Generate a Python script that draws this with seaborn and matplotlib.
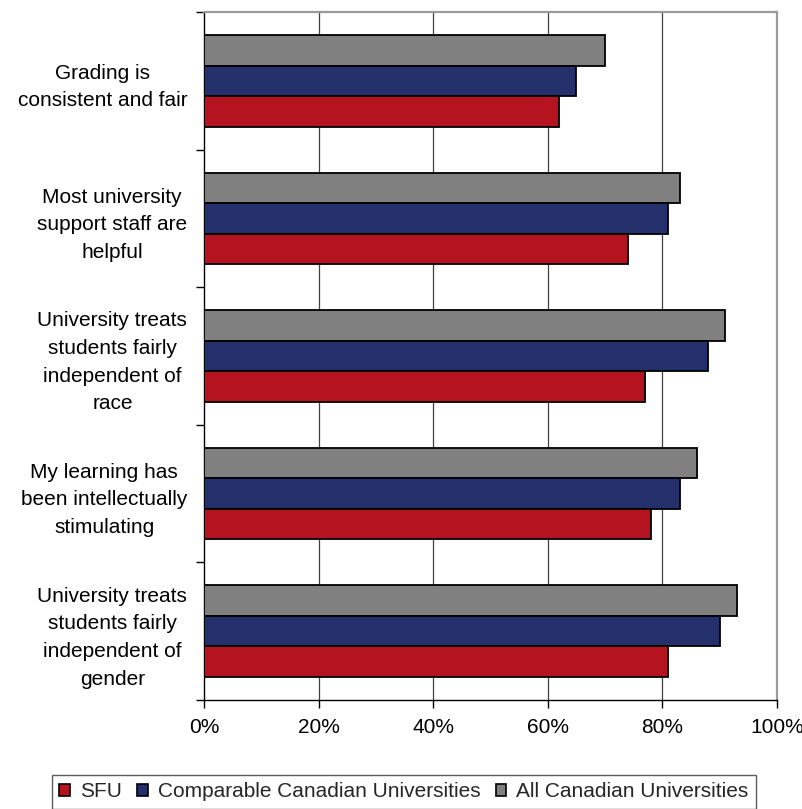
import matplotlib
matplotlib.use("Agg")
import matplotlib.pyplot as plt
from matplotlib.patches import Patch
from matplotlib.ticker import FixedLocator, FuncFormatter
import seaborn as sns
import pandas as pd
import numpy as np

# Survey statements (top to bottom) and share of students agreeing, in percent
categories = [
    "Grading is\nconsistent and fair",
    "Most university\nsupport staff are\nhelpful",
    "University treats\nstudents fairly\nindependent of\nrace",
    "My learning has\nbeen intellectually\nstimulating",
    "University treats\nstudents fairly\nindependent of\ngender",
]
series = ["SFU", "Comparable Canadian Universities", "All Canadian Universities"]
sfu = [62, 74, 77, 78, 81]
comparable = [65, 81, 88, 83, 90]
all_canadian = [70, 83, 91, 86, 93]
x_ticks = [0, 20, 40, 60, 80, 100]

palette = {
    "SFU": "#B5131F",
    "Comparable Canadian Universities": "#24306C",
    "All Canadian Universities": "#808080",
}

df = pd.DataFrame({
    "category": categories * 3,
    "series": [series[0]] * 5 + [series[1]] * 5 + [series[2]] * 5,
    "value": sfu + comparable + all_canadian,
})

sns.set_theme(style="white")
plt.rcParams["font.family"] = ["Liberation Sans", "DejaVu Sans"]
FS = 15

fig = plt.figure(figsize=(8.02, 8.09), dpi=100)
ax = fig.add_axes([204 / 802, 109 / 809, 573 / 802, 688 / 809])

sns.barplot(
    data=df, x="value", y="category", hue="series",
    order=categories, hue_order=series[::-1], palette=palette,
    orient="h", width=2 / 3, edgecolor="black", linewidth=1.3,
    saturation=1, legend=False, ax=ax, zorder=3,
)

ax.set_xlim(0, 100)
ax.set_ylim(4.5, -0.5)
ax.set_xlabel("")
ax.set_ylabel("")

# Vertical gridlines
for v in x_ticks[1:-1]:
    ax.axvline(v, color="#404040", lw=0.9, zorder=1)

# Axis frame: black left/bottom, grey top/right
for side in ("left", "bottom"):
    ax.spines[side].set_color("black")
    ax.spines[side].set_linewidth(1.0)
for side in ("top", "right"):
    ax.spines[side].set_color("#9a9a9a")
    ax.spines[side].set_linewidth(1.6)

ax.xaxis.set_major_locator(FixedLocator(x_ticks))
ax.xaxis.set_major_formatter(FuncFormatter(lambda v, p: f"{v:.0f}%"))
ax.tick_params(axis="x", which="major", bottom=True, length=6, width=1,
               color="black", direction="out", pad=7, labelsize=FS,
               labelcolor="black")

ax.yaxis.set_major_locator(FixedLocator(range(len(categories))))
ax.set_yticklabels(categories)
ax.yaxis.set_minor_locator(FixedLocator(np.arange(-0.5, len(categories), 1.0)))
ax.tick_params(axis="y", which="major", left=True, length=0, pad=12,
               labelsize=FS, labelcolor="black")
ax.tick_params(axis="y", which="minor", left=True, length=6, width=1,
               color="black", direction="out")
for lbl in ax.get_yticklabels():
    lbl.set_multialignment("center")
    lbl.set_linespacing(1.58)

handles = [Patch(facecolor=palette[s], edgecolor="black", linewidth=1.2) for s in series]
leg = fig.legend(
    handles, series, loc="upper left", bbox_to_anchor=(52 / 802, 1 - 775 / 809),
    ncol=3, frameon=True, fancybox=False, fontsize=FS,
    handlelength=0.5, handleheight=0.5, handletextpad=0.48,
    columnspacing=0.75, borderpad=0.35, borderaxespad=0,
)
leg.get_frame().set_edgecolor("#333333")
leg.get_frame().set_linewidth(1.0)

fig.savefig("out.png", dpi=100)
